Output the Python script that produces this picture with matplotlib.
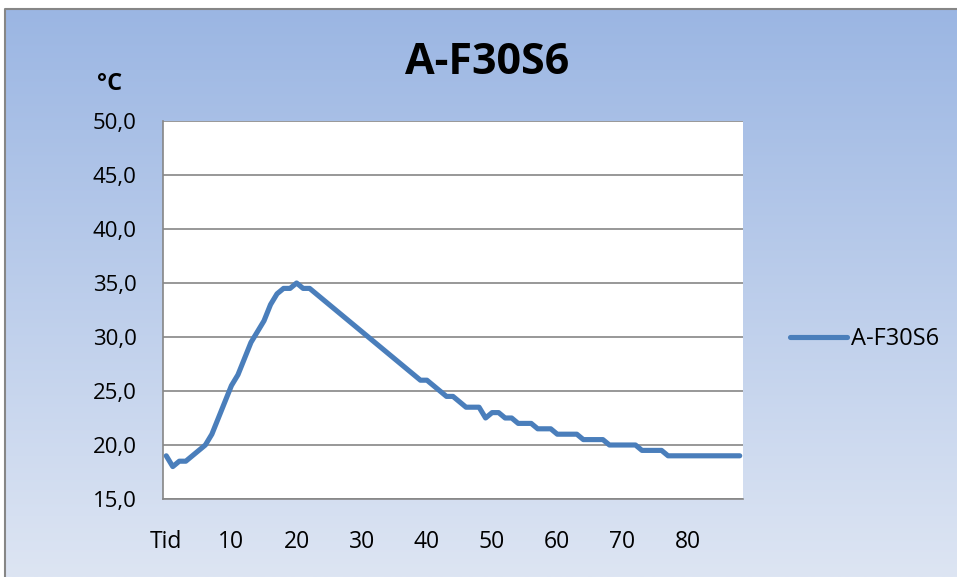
import matplotlib
matplotlib.use("Agg")
import matplotlib.pyplot as plt
import numpy as np
from matplotlib.lines import Line2D

# temperature readings, one per time step (degC)
temps = [19.0, 18.0, 18.5, 18.5, 19.0, 19.5, 20.0, 21.0, 22.5, 24.0,
         25.5, 26.5, 28.0, 29.5, 30.5, 31.5, 33.0, 34.0, 34.5, 34.5,
         35.0, 34.5, 34.5, 34.0, 33.5, 33.0, 32.5, 32.0, 31.5, 31.0,
         30.5, 30.0, 29.5, 29.0, 28.5, 28.0, 27.5, 27.0, 26.5, 26.0,
         26.0, 25.5, 25.0, 24.5, 24.5, 24.0, 23.5, 23.5, 23.5, 22.5,
         23.0, 23.0, 22.5, 22.5, 22.0, 22.0, 22.0, 21.5, 21.5, 21.5,
         21.0, 21.0, 21.0, 21.0, 20.5, 20.5, 20.5, 20.5, 20.0, 20.0,
         20.0, 20.0, 20.0, 19.5, 19.5, 19.5, 19.5, 19.0, 19.0, 19.0,
         19.0, 19.0, 19.0, 19.0, 19.0, 19.0, 19.0, 19.0, 19.0]
xlabels = ["Tid", "10", "20", "30", "40", "50", "60", "70", "80"]
xlabel_pos = [0, 10, 20, 30, 40, 50, 60, 70, 80]
yticks = [15, 20, 25, 30, 35, 40, 45, 50]
series_name = "A-F30S6"

plt.rcParams['font.family'] = ['Open Sans', 'DejaVu Sans']

W, H = 957, 577
fig = plt.figure(figsize=(W/100, H/100), dpi=100)
fig.patch.set_facecolor('white')

# gradient chart background with grey frame
bg = fig.add_axes([0, 0, 1, 1], zorder=-1)
bg.set_xlim(0, 1); bg.set_ylim(0, 1); bg.axis('off')
top = np.array([0x9B, 0xB6, 0xE3]) / 255
bot = np.array([0xDD, 0xE5, 0xF3]) / 255
t = np.linspace(0, 1, 256)[:, None]
grad = (top * (1 - t) + bot * t)[:, None, :]
x0, y1 = 5/W, 1 - 9/H
bg.imshow(grad, extent=[x0, 1, 0, y1], aspect='auto', interpolation='bilinear')
bg.plot([x0, x0, 1], [0, y1, y1], color='#868686', lw=1.5, solid_capstyle='butt')

ax = fig.add_axes([163/W, (H-499)/H, 580/W, 378/H])
ax.set_facecolor('white')
x = np.arange(len(temps))
ax.plot(x, temps, color='#4A7EBB', lw=3.7, solid_capstyle='round',
        solid_joinstyle='round', zorder=3)

ax.set_xlim(-0.5, len(temps) - 0.5)
ax.set_ylim(15, 50)
ax.set_yticks(yticks)
ax.set_yticklabels([f"{v:.1f}".replace('.', ',') for v in yticks], fontsize=16)
ax.set_xticks(xlabel_pos)
ax.set_xticklabels(xlabels, fontsize=16.5)
ax.tick_params(axis='y', length=0, pad=19)
ax.tick_params(axis='x', length=0, pad=22)
ax.grid(axis='y', color='#868686', lw=1.2)
ax.set_axisbelow(True)
for s in ['top', 'right']:
    ax.spines[s].set_visible(False)
for s in ['left', 'bottom']:
    ax.spines[s].set_color('#868686')
    ax.spines[s].set_linewidth(1.2)

fig.text(487/W, 1 - 62/H, series_name, fontsize=31, fontweight='bold',
         ha='center', va='center')
fig.text(110/W, 1 - 84/H, "°C", fontsize=17, fontweight='bold',
         ha='center', va='center')

handle = Line2D([], [], color='#4A7EBB', lw=3.7, solid_capstyle='round')
fig.legend([handle], [series_name], loc='center left',
           bbox_to_anchor=(790/W, 1 - 339/H), frameon=False, fontsize=17,
           handlelength=2.4, handletextpad=0.2, borderpad=0, borderaxespad=0)

fig.savefig("out.png", dpi=100)
